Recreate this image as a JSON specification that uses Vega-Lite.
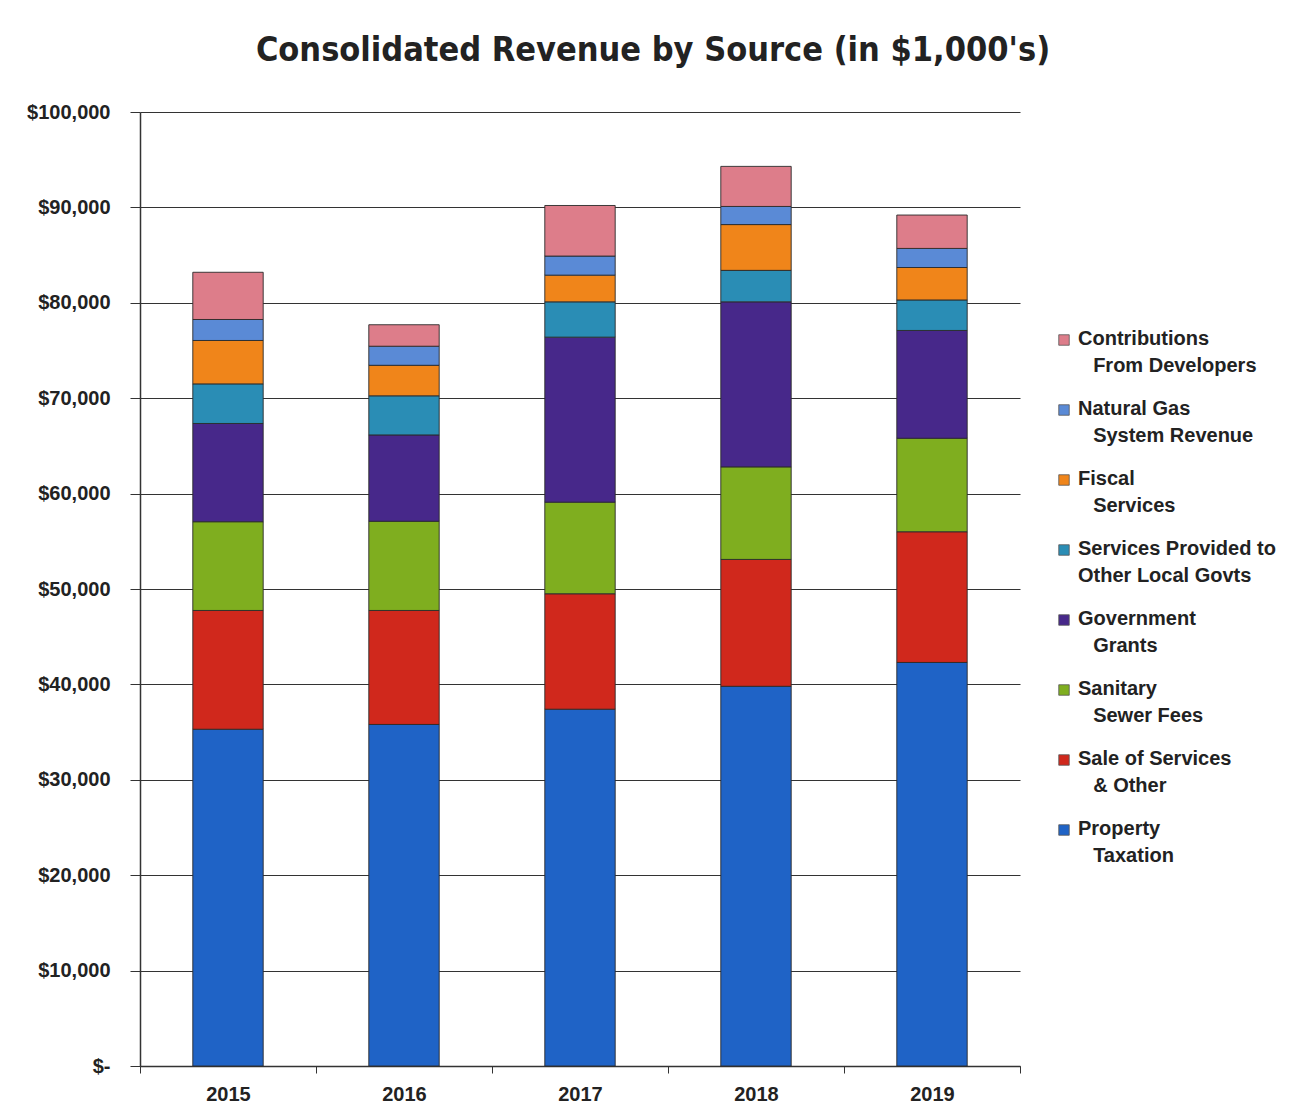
{
  "$schema": "https://vega.github.io/schema/vega-lite/v6.json",
  "autosize": "none",
  "width": 880,
  "height": 954,
  "padding": {"left": 140, "top": 112, "right": 277, "bottom": 52},
  "background": "white",
  "title": {
    "text": "Consolidated Revenue by Source (in $1,000's)",
    "font": "Liberation Sans Narrow, Arial Narrow, DejaVu Sans Condensed, Liberation Sans",
    "fontSize": 34,
    "fontWeight": "bold",
    "color": "#222222",
    "anchor": "middle",
    "dx": 73,
    "offset": 34
  },
  "data": {
    "values": [
      {"year": "2015", "source": "Property Taxation", "rank": 1, "value": 35300},
      {"year": "2015", "source": "Sale of Services & Other", "rank": 2, "value": 12450},
      {"year": "2015", "source": "Sanitary Sewer Fees", "rank": 3, "value": 9300},
      {"year": "2015", "source": "Government Grants", "rank": 4, "value": 10300},
      {"year": "2015", "source": "Services Provided to Other Local Govts", "rank": 5, "value": 4150},
      {"year": "2015", "source": "Fiscal Services", "rank": 6, "value": 4550},
      {"year": "2015", "source": "Natural Gas System Revenue", "rank": 7, "value": 2200},
      {"year": "2015", "source": "Contributions From Developers", "rank": 8, "value": 4950},
      {"year": "2016", "source": "Property Taxation", "rank": 1, "value": 35800},
      {"year": "2016", "source": "Sale of Services & Other", "rank": 2, "value": 11950},
      {"year": "2016", "source": "Sanitary Sewer Fees", "rank": 3, "value": 9350},
      {"year": "2016", "source": "Government Grants", "rank": 4, "value": 9050},
      {"year": "2016", "source": "Services Provided to Other Local Govts", "rank": 5, "value": 4100},
      {"year": "2016", "source": "Fiscal Services", "rank": 6, "value": 3200},
      {"year": "2016", "source": "Natural Gas System Revenue", "rank": 7, "value": 2000},
      {"year": "2016", "source": "Contributions From Developers", "rank": 8, "value": 2250},
      {"year": "2017", "source": "Property Taxation", "rank": 1, "value": 37400},
      {"year": "2017", "source": "Sale of Services & Other", "rank": 2, "value": 12100},
      {"year": "2017", "source": "Sanitary Sewer Fees", "rank": 3, "value": 9600},
      {"year": "2017", "source": "Government Grants", "rank": 4, "value": 17300},
      {"year": "2017", "source": "Services Provided to Other Local Govts", "rank": 5, "value": 3700},
      {"year": "2017", "source": "Fiscal Services", "rank": 6, "value": 2800},
      {"year": "2017", "source": "Natural Gas System Revenue", "rank": 7, "value": 2000},
      {"year": "2017", "source": "Contributions From Developers", "rank": 8, "value": 5300},
      {"year": "2018", "source": "Property Taxation", "rank": 1, "value": 39800},
      {"year": "2018", "source": "Sale of Services & Other", "rank": 2, "value": 13300},
      {"year": "2018", "source": "Sanitary Sewer Fees", "rank": 3, "value": 9700},
      {"year": "2018", "source": "Government Grants", "rank": 4, "value": 17300},
      {"year": "2018", "source": "Services Provided to Other Local Govts", "rank": 5, "value": 3300},
      {"year": "2018", "source": "Fiscal Services", "rank": 6, "value": 4800},
      {"year": "2018", "source": "Natural Gas System Revenue", "rank": 7, "value": 1900},
      {"year": "2018", "source": "Contributions From Developers", "rank": 8, "value": 4200},
      {"year": "2019", "source": "Property Taxation", "rank": 1, "value": 42300},
      {"year": "2019", "source": "Sale of Services & Other", "rank": 2, "value": 13700},
      {"year": "2019", "source": "Sanitary Sewer Fees", "rank": 3, "value": 9800},
      {"year": "2019", "source": "Government Grants", "rank": 4, "value": 11300},
      {"year": "2019", "source": "Services Provided to Other Local Govts", "rank": 5, "value": 3200},
      {"year": "2019", "source": "Fiscal Services", "rank": 6, "value": 3400},
      {"year": "2019", "source": "Natural Gas System Revenue", "rank": 7, "value": 2000},
      {"year": "2019", "source": "Contributions From Developers", "rank": 8, "value": 3500}
    ]
  },
  "mark": {"type": "bar", "stroke": "#2a2a2a", "strokeWidth": 0.9, "width": {"band": 0.4}},
  "encoding": {
    "x": {
      "field": "year",
      "type": "ordinal",
      "scale": {"paddingInner": 0, "paddingOuter": 0},
      "axis": {
        "title": null,
        "labelAngle": 0,
        "labelFont": "Liberation Sans",
        "labelFontSize": 20,
        "labelFontWeight": "bold",
        "labelColor": "#222222",
        "labelPadding": 11,
        "tickBand": "extent",
        "tickSize": 7,
        "tickColor": "#333333",
        "domainColor": "#333333",
        "domainWidth": 1.5
      }
    },
    "y": {
      "field": "value",
      "type": "quantitative",
      "stack": "zero",
      "scale": {"domain": [0, 100000], "nice": false},
      "axis": {
        "title": null,
        "values": [0, 10000, 20000, 30000, 40000, 50000, 60000, 70000, 80000, 90000, 100000],
        "labelExpr": "datum.value == 0 ? '$-' : '$' + format(datum.value, ',')",
        "labelFont": "Liberation Sans",
        "labelFontSize": 20,
        "labelFontWeight": "bold",
        "labelColor": "#222222",
        "labelPadding": 20,
        "tickSize": 10,
        "tickColor": "#333333",
        "domainColor": "#333333",
        "domainWidth": 1.5,
        "grid": true,
        "gridColor": "#333333",
        "gridWidth": 1.2
      }
    },
    "color": {
      "field": "source",
      "type": "nominal",
      "scale": {
        "domain": [
          "Contributions From Developers",
          "Natural Gas System Revenue",
          "Fiscal Services",
          "Services Provided to Other Local Govts",
          "Government Grants",
          "Sanitary Sewer Fees",
          "Sale of Services & Other",
          "Property Taxation"
        ],
        "range": ["#dd7d8a", "#5a8ad6", "#f0851a", "#2a8db5", "#47288a", "#7fae1f", "#d0281c", "#1f63c6"]
      },
      "legend": {
        "title": null,
        "orient": "none",
        "legendX": 914,
        "legendY": 218,
        "symbolType": "square",
        "symbolSize": 110,
        "symbolStrokeColor": "#555555",
        "symbolStrokeWidth": 0.8,
        "labelFont": "Liberation Sans",
        "labelFontSize": 20,
        "labelFontWeight": "bold",
        "labelColor": "#222222",
        "labelBaseline": "top",
        "labelOffset": 4,
        "labelLimit": 300,
        "rowPadding": 23,
        "encode": {
          "labels": {"update": {"lineHeight": {"value": 27}, "dy": {"value": -11}}}
        },
        "labelExpr": "datum.label == 'Contributions From Developers' ? ['Contributions', '\u200b\u2007\u2009From Developers'] : datum.label == 'Natural Gas System Revenue' ? ['Natural Gas', '\u200b\u2007\u2009System Revenue'] : datum.label == 'Fiscal Services' ? ['Fiscal', '\u200b\u2007\u2009Services'] : datum.label == 'Services Provided to Other Local Govts' ? ['Services Provided to', 'Other Local Govts'] : datum.label == 'Government Grants' ? ['Government', '\u200b\u2007\u2009Grants'] : datum.label == 'Sanitary Sewer Fees' ? ['Sanitary', '\u200b\u2007\u2009Sewer Fees'] : datum.label == 'Sale of Services & Other' ? ['Sale of Services', '\u200b\u2007\u2009& Other'] : ['Property', '\u200b\u2007\u2009Taxation']"
      }
    },
    "order": {"field": "rank", "type": "quantitative", "sort": "ascending"}
  },
  "config": {
    "view": {"stroke": null}
  }
}
